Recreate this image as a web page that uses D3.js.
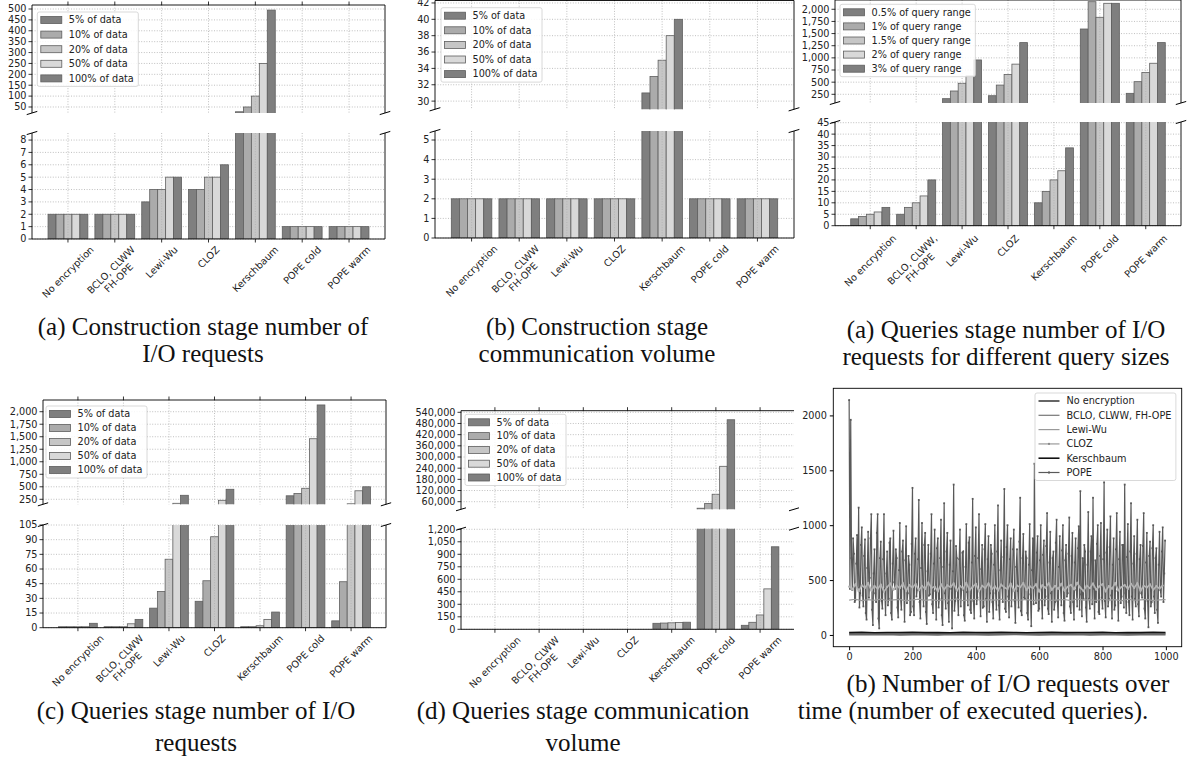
<!DOCTYPE html>
<html>
<head>
<meta charset="utf-8">
<script src="https://cdn.jsdelivr.net/npm/d3@7"></script>
<style>
body { margin: 0; background: #fff; }
svg { display: block; }
text { font-family: "DejaVu Sans", sans-serif; font-size: 9.7px; fill: #222; }
.cap { font-family: "Liberation Serif", serif; font-size: 25px; fill: #111; }
.grid { stroke: #b0b0b0; stroke-width: 0.8; stroke-dasharray: 1,1.6; }
.spine { stroke: #000; stroke-width: 0.9; fill: none; }
</style>
</head>
<body>
<svg id="fig" width="1192" height="773"></svg>
<script>
// categories and series names
const schemes = ['No encryption', 'BCLO, CLWW\nFH-OPE', 'Lewi-Wu', 'CLOZ', 'Kerschbaum', 'POPE cold', 'POPE warm'];
const schemesComma = ['No encryption', 'BCLO, CLWW,\nFH-OPE', 'Lewi-Wu', 'CLOZ', 'Kerschbaum', 'POPE cold', 'POPE warm'];
const dataSizes = ['5% of data', '10% of data', '20% of data', '50% of data', '100% of data'];
const querySizes = ['0.5% of query range', '1% of query range', '1.5% of query range', '2% of query range', '3% of query range'];

// one row per scheme, one value per data / query size
const buildIO = [[2,2,2,2,2],[2,2,2,2,2],[3,4,4,5,5],[4,4,5,5,6],[28,50,100,250,495],[1,1,1,1,1],[1,1,1,1,1]];
const buildVolume = [[2,2,2,2,2],[2,2,2,2,2],[2,2,2,2,2],[2,2,2,2,2],[31,33,35,38,40],[2,2,2,2,2],[2,2,2,2,2]];
const queryIOBySize = [[3,4,5,6,8],[5,8,10,13,20],[160,318,477,630,957],[221,440,659,871,1314],[10,15,20,24,34],[1594,2156,1835,2123,2123],[270,510,697,889,1314]];
const queryIO = [[1,1,1,1,4.5],[1,1,1,4,8.5],[20,37,70,170,330],[27,48,93,230,450],[1,1,2,8.5,16],[320,365,470,1460,2135],[7,47,160,420,500]];
const queryVolume = [[0,0,0,0,0],[0,0,0,0,0],[0,0,0,0,0],[0,0,0,0,0],[72,75,78,82,85],[25000,50000,100000,250000,500000],[48,84,172,485,990]];

// tick values
const ticksBuildIOTop = [50,100,150,200,250,300,350,400,450,500];
const ticksBuildIOBot = [0,1,2,3,4,5,6,7,8];
const ticksBuildVolTop = [30,32,34,36,38,40,42];
const ticksBuildVolBot = [0,1,2,3,4,5];
const ticksSizeTop = [250,500,750,1000,1250,1500,1750,2000];
const ticksSizeBot = [0,5,10,15,20,25,30,35,40,45];
const ticksQIOTop = [250,500,750,1000,1250,1500,1750,2000];
const ticksQIOBot = [0,15,30,45,60,75,90,105];
const ticksQVolTop = [60000,120000,180000,240000,300000,360000,420000,480000,540000];
const ticksQVolBot = [0,150,300,450,600,750,900,1050,1200];

// I/O requests over time (number of executed queries)
const lineNames = ['No encryption', 'BCLO, CLWW, FH-OPE', 'Lewi-Wu', 'CLOZ', 'Kerschbaum', 'POPE'];
const popeStep = 2.5;
const popeSeries = [
  2140,420,1960,700,410,880,740,300,320,650,910,430,1160,250,380,820,980,360,260,720,870,200,140,610,940,340,520,880,1100,230,90,560,780,380,300,930,1100,150,60,700,
  850,310,240,690,1100,420,180,560,760,270,330,840,880,200,140,650,950,480,420,780,700,250,160,590,1020,330,230,760,860,420,120,680,990,290,380,720,640,180,210,830,
  1340,260,180,740,880,350,410,690,1230,300,150,610,1020,440,260,820,930,210,100,580,820,360,370,740,1100,280,200,650,960,400,140,790,880,250,330,700,1050,180,90,620,
  1200,380,240,760,930,290,120,640,860,420,60,580,1370,220,310,810,700,340,180,690,960,260,410,750,760,180,130,620,1010,390,270,840,890,230,200,660,1240,310,150,720,
  980,280,340,700,1100,420,170,600,820,250,260,780,1010,330,120,690,900,210,380,820,740,300,150,640,1000,380,230,760,1180,270,140,590,860,430,300,710,1330,240,210,800,
  1000,350,160,690,880,260,420,780,960,310,110,620,780,400,250,850,1250,220,180,700,920,340,330,760,700,200,140,640,1010,370,80,590,880,280,1560,430,290,750,900,220,
  240,680,1000,320,150,730,860,270,350,810,1110,240,190,660,940,380,120,700,760,230,300,840,1050,310,160,620,900,420,270,770,1000,200,130,680,820,350,380,740,1070,260,
  200,720,930,300,140,660,880,410,260,790,990,230,1310,370,170,700,330,820,760,250,120,640,1120,330,240,760,900,280,1250,420,150,680,300,830,1000,210,190,720,1020,340,
  240,690,1390,310,160,750,960,260,330,800,1080,360,150,640,880,230,270,780,1110,400,130,690,940,290,350,820,820,250,1370,380,200,710,1010,300,180,760,1200,350,140,650,
  900,330,260,740,1050,280,170,690,820,380,340,810,1110,240,150,660,930,310,70,720,850,260,300,790,1000,350,200,700,790,230,110,640,940,410,350,760,980,300,560,860
];
const clozStep = 10;
const clozSeries = [
  440,415,462,398,451,430,472,405,446,421, 458,394,437,468,412,449,426,470,401,455,
  433,464,408,447,419,476,428,441,397,460, 414,452,436,469,403,445,423,474,410,438,
  466,399,448,427,471,416,443,405,459,432, 418,467,402,450,435,473,409,444,425,461,
  396,453,429,470,412,446,421,465,404,439, 457,417,475,431,400,449,426,468,413,442,
  463,398,445,422,472,407,437,454,419,466, 428,471,403,448,433,460,411,444,424,450
];
const lewiStep = 20;
const lewiSeries = [
  318,325,312,322,316,327,314,320,324,311, 319,326,315,321,313,323,317,328,312,320,
  325,314,322,318,327,311,321,316,324,313, 320,326,315,319,323,312,328,317,321,314,
  325,318,322,311,327,316,320,324,313,319,322
];
const lowStep = 40;
const plainSeries = [3,5,4,6,3,4,5,3,6,4,5,3,4,6,5,3,4,5,6,3,4,5,3,4,6,4];
const bcloSeries = [11,14,10,13,12,15,11,13,10,14,12,11,15,13,10,12,14,11,13,12,15,10,13,11,14,12];
const kerschSeries = [21,24,20,23,22,25,21,23,20,24,22,21,25,23,20,22,24,21,23,22,25,20,23,21,24,22];
const timeTicksX = [0,200,400,600,800,1000];
const timeTicksY = [0,500,1000,1500,2000];

// styles
const barFills = ['#7f7f7f', '#ababab', '#c6c6c6', '#d9d9d9', '#7f7f7f'];
const barEdge = '#5e5e5e';

const svg = d3.select('#fig');
const fmt = d3.format(',');
let clipCount = 0;

function rotLabel(g, x, yTop, label) {
    const lines = label.split('\n');
    const lh = 11;
    const t = g.append('text').attr('text-anchor', 'middle');
    lines.forEach((s, i) => {
        t.append('tspan').attr('x', 0)
            .attr('dy', i === 0 ? (-(lines.length - 1) * lh / 2 + 3.4) : lh)
            .text(s);
    });
    const w = d3.max(t.selectAll('tspan').nodes(), n => n.getComputedTextLength());
    const h = lines.length * lh;
    const half = (w + h) / (2 * Math.SQRT2);
    t.attr('transform', `translate(${x},${yTop + half}) rotate(-45)`);
}

function legendBox(g, lx, ly, names, gap, drawKey) {
    const lg = g.append('g');
    const box = lg.append('rect').attr('fill', 'white').attr('fill-opacity', 0.85)
        .attr('stroke', '#cfcfcf').attr('stroke-width', 0.8).attr('rx', 2);
    let maxW = 0;
    names.forEach((n, i) => {
        const cy = ly + i * gap;
        drawKey(lg, lx + 3.5, cy, i);
        const t = lg.append('text').attr('x', lx + 31.5).attr('y', cy).attr('dy', '0.35em').text(n);
        maxW = Math.max(maxW, t.node().getComputedTextLength());
    });
    box.attr('x', lx).attr('y', ly - 8).attr('width', maxW + 36)
        .attr('height', (names.length - 1) * gap + 16);
}

function brokenBars(cfg) {
    const g = svg.append('g');
    const x = d3.scaleLinear().domain([-0.7675, 6.7675]).range([cfg.x0, cfg.x1]);
    const bw = 0.17;
    const W = cfg.x1 - cfg.x0;
    const d = 0.015;
    [cfg.top, cfg.bot].forEach((p, pi) => {
        const y = d3.scaleLinear().domain(p.dom).range([p.y1, p.y0]);
        const H = p.y1 - p.y0;
        const id = 'clip' + (clipCount++);
        g.append('clipPath').attr('id', id).append('rect')
            .attr('x', cfg.x0).attr('y', p.y0).attr('width', W).attr('height', H);

        g.append('g').selectAll('line').data(p.ticks).join('line')
            .attr('class', 'grid')
            .attr('x1', cfg.x0).attr('x2', cfg.x1)
            .attr('y1', v => y(v)).attr('y2', v => y(v));

        const bars = g.append('g').attr('clip-path', `url(#${id})`);
        cfg.values.forEach((vals, i) => {
            bars.selectAll(null).data(vals.map((v, k) => ({v, k})).filter(e => e.v > 0)).join('rect')
                .attr('x', e => x(i - 2.5 * bw + e.k * bw))
                .attr('width', x(bw) - x(0))
                .attr('y', e => y(Math.min(e.v, p.dom[1] * 2)))
                .attr('height', e => y(0) - y(Math.min(e.v, p.dom[1] * 2)))
                .attr('fill', e => barFills[e.k])
                .attr('stroke', barEdge).attr('stroke-width', 0.8);
        });

        g.append('g').selectAll('line').data(d3.range(7)).join('line')
            .attr('class', 'grid')
            .attr('x1', i => x(i)).attr('x2', i => x(i))
            .attr('y1', p.y0).attr('y2', p.y1);

        // spines
        g.append('line').attr('class', 'spine').attr('x1', cfg.x0).attr('x2', cfg.x0).attr('y1', p.y0).attr('y2', p.y1);
        if (!cfg.noRight) g.append('line').attr('class', 'spine').attr('x1', cfg.x1).attr('x2', cfg.x1).attr('y1', p.y0).attr('y2', p.y1);
        const ey = pi === 0 ? p.y0 : p.y1;
        g.append('line').attr('class', 'spine').attr('x1', cfg.x0).attr('x2', cfg.x1).attr('y1', ey).attr('y2', ey);

        // y ticks
        const yt = g.append('g');
        yt.selectAll('line').data(p.ticks).join('line')
            .attr('stroke', '#000').attr('stroke-width', 0.8)
            .attr('x1', cfg.x0 - 3.5).attr('x2', cfg.x0)
            .attr('y1', v => y(v)).attr('y2', v => y(v));
        yt.selectAll('text').data(p.ticks).join('text')
            .attr('x', cfg.x0 - 5.5).attr('y', v => y(v)).attr('dy', '0.35em')
            .attr('text-anchor', 'end').text(v => fmt(v));

        // x ticks (top axis on upper part, bottom axis on lower part)
        g.append('g').selectAll('line').data(d3.range(7)).join('line')
            .attr('stroke', '#000').attr('stroke-width', 0.8)
            .attr('x1', i => x(i)).attr('x2', i => x(i))
            .attr('y1', ey).attr('y2', pi === 0 ? ey - 3.5 : ey + 3.5);

        // break marks
        const dw = d * W, dh = d * H;
        const by = pi === 0 ? p.y1 : p.y0;
        [cfg.x0, cfg.x1].forEach(bx => {
            g.append('line').attr('stroke', '#000').attr('stroke-width', 1)
                .attr('x1', bx - dw).attr('y1', by + dh)
                .attr('x2', bx + dw).attr('y2', by - dh);
        });
    });

    cfg.cats.forEach((c, i) => rotLabel(g, x(i), cfg.bot.y1 + (cfg.labelGap || 5), c));

    legendBox(g, cfg.legend[0], cfg.legend[1], cfg.names, cfg.legend[2], (lg, kx, cy, i) => {
        lg.append('rect').attr('x', kx).attr('y', cy - 3.5).attr('width', 21).attr('height', 7)
            .attr('fill', barFills[i]).attr('stroke', barEdge).attr('stroke-width', 0.8);
    });
}

brokenBars({
    x0: 32, x1: 385, cats: schemes, names: dataSizes, values: buildIO,
    top: {y0: 5, y1: 113, dom: [22.4, 518.4], ticks: ticksBuildIOTop},
    bot: {y0: 133, y1: 239, dom: [0, 8.57], ticks: ticksBuildIOBot},
    legend: [37.3, 20, 14.6]
});
brokenBars({
    x0: 435, x1: 794, cats: schemes, names: dataSizes, values: buildVolume,
    top: {y0: 0.5, y1: 109.3, dom: [29.0, 42.3], ticks: ticksBuildVolTop},
    bot: {y0: 131, y1: 238, dom: [0, 5.46], ticks: ticksBuildVolBot},
    legend: [441, 15.7, 14.6]
});
brokenBars({
    x0: 835, x1: 1181, cats: schemesComma, names: querySizes, values: queryIOBySize, labelGap: 7,
    top: {y0: 0, y1: 103, dom: [71, 2191], ticks: ticksSizeTop},
    bot: {y0: 122, y1: 225.7, dom: [0, 45.3], ticks: ticksSizeBot},
    legend: [840, 12.3, 14.1]
});
brokenBars({
    x0: 43, x1: 386, cats: schemes, names: dataSizes, values: queryIO,
    top: {y0: 400, y1: 504.3, dom: [150, 2234], ticks: ticksQIOTop},
    bot: {y0: 525, y1: 627.7, dom: [0, 105], ticks: ticksQIOBot},
    legend: [46, 414, 14]
});
brokenBars({
    x0: 461, x1: 794, cats: schemes, names: dataSizes, values: queryVolume, noRight: true,
    top: {y0: 410.7, y1: 509.3, dom: [19200, 548600], ticks: ticksQVolTop},
    bot: {y0: 528.7, y1: 629.3, dom: [0, 1207], ticks: ticksQVolBot},
    legend: [465, 422.3, 13.8]
});

// I/O requests over time
function timePanel() {
    const x0 = 833.3, x1 = 1181.7, y0 = 388.3, y1 = 646.7;
    const g = svg.append('g');
    const x = d3.scaleLinear().domain([-50, 1050]).range([x0, x1]);
    const y = d3.scaleLinear().domain([-107, 2247]).range([y1, y0]);
    const id = 'clip' + (clipCount++);
    g.append('clipPath').attr('id', id).append('rect')
        .attr('x', x0).attr('y', y0).attr('width', x1 - x0).attr('height', y1 - y0);
    const plot = g.append('g').attr('clip-path', `url(#${id})`);
    const toPts = (arr, step) => arr.map((v, i) => [Math.min(i * step, 999), v]);
    const line = d3.line().x(p => x(p[0])).y(p => y(p[1]));

    const styles = [
        {data: toPts(plainSeries, lowStep), color: '#666', w: 2},
        {data: toPts(bcloSeries, lowStep), color: '#777', w: 1.2},
        {data: toPts(lewiSeries, lewiStep), color: '#9a9a9a', w: 1.2},
        {data: toPts(clozSeries, clozStep), color: '#b4b4b4', w: 1.6, dot: true},
        {data: toPts(kerschSeries, lowStep), color: '#111', w: 1.6},
        {data: toPts(popeSeries, popeStep), color: '#595959', w: 1.2, square: true}
    ];
    const order = [5, 0, 1, 2, 3, 4];
    order.forEach(si => {
        const s = styles[si];
        plot.append('path').attr('d', line(s.data)).attr('fill', 'none')
            .attr('stroke', s.color).attr('stroke-width', s.w);
        if (s.square) {
            plot.append('g').selectAll('rect').data(s.data).join('rect')
                .attr('x', p => x(p[0]) - 0.9).attr('y', p => y(p[1]) - 0.9)
                .attr('width', 1.8).attr('height', 1.8).attr('fill', s.color);
        }
        if (s.dot) {
            plot.append('g').selectAll('circle').data(s.data).join('circle')
                .attr('cx', p => x(p[0])).attr('cy', p => y(p[1])).attr('r', 1.1).attr('fill', s.color);
        }
    });

    g.append('rect').attr('class', 'spine').attr('x', x0).attr('y', y0).attr('width', x1 - x0).attr('height', y1 - y0);
    g.append('g').attr('transform', `translate(0,${y1})`)
        .call(d3.axisBottom(x).tickValues(timeTicksX).tickSize(3.5).tickPadding(3).tickFormat(d3.format('d')))
        .call(a => a.select('.domain').remove())
        .call(a => a.selectAll('text').attr('font-size', null).attr('font-family', null).attr('fill', '#222'));
    g.append('g').attr('transform', `translate(${x0},0)`)
        .call(d3.axisLeft(y).tickValues(timeTicksY).tickSize(3.5).tickPadding(3).tickFormat(d3.format('d')))
        .call(a => a.select('.domain').remove())
        .call(a => a.selectAll('text').attr('font-size', null).attr('font-family', null).attr('fill', '#222'));

    legendBox(g, 1035, 401, lineNames, 14.3, (lg, kx, cy, i) => {
        const s = styles[i];
        lg.append('line').attr('x1', kx).attr('x2', kx + 21).attr('y1', cy).attr('y2', cy)
            .attr('stroke', s.color).attr('stroke-width', s.w);
        if (s.square) lg.append('rect').attr('x', kx + 9.5).attr('y', cy - 1).attr('width', 2).attr('height', 2).attr('fill', s.color);
        if (s.dot) lg.append('circle').attr('cx', kx + 10.5).attr('cy', cy).attr('r', 1.1).attr('fill', '#888');
    });
}
timePanel();

// sub-figure captions
const captions = [
    ['(a) Construction stage number of', 203, 335], ['I/O requests', 203, 362],
    ['(b) Construction stage', 597, 335], ['communication volume', 597, 362],
    ['(a) Queries stage number of I/O', 1006, 338], ['requests for different query sizes', 1006, 365],
    ['(b) Number of I/O requests over', 1008, 692], ['time (number of executed queries).', 973, 719],
    ['(c) Queries stage number of I/O', 196, 719], ['requests', 196, 751],
    ['(d) Queries stage communication', 583, 719], ['volume', 583, 751]
];
svg.append('g').selectAll('text').data(captions).join('text')
    .attr('class', 'cap').attr('text-anchor', 'middle')
    .attr('x', c => c[1]).attr('y', c => c[2]).text(c => c[0]);
</script>
</body>
</html>
